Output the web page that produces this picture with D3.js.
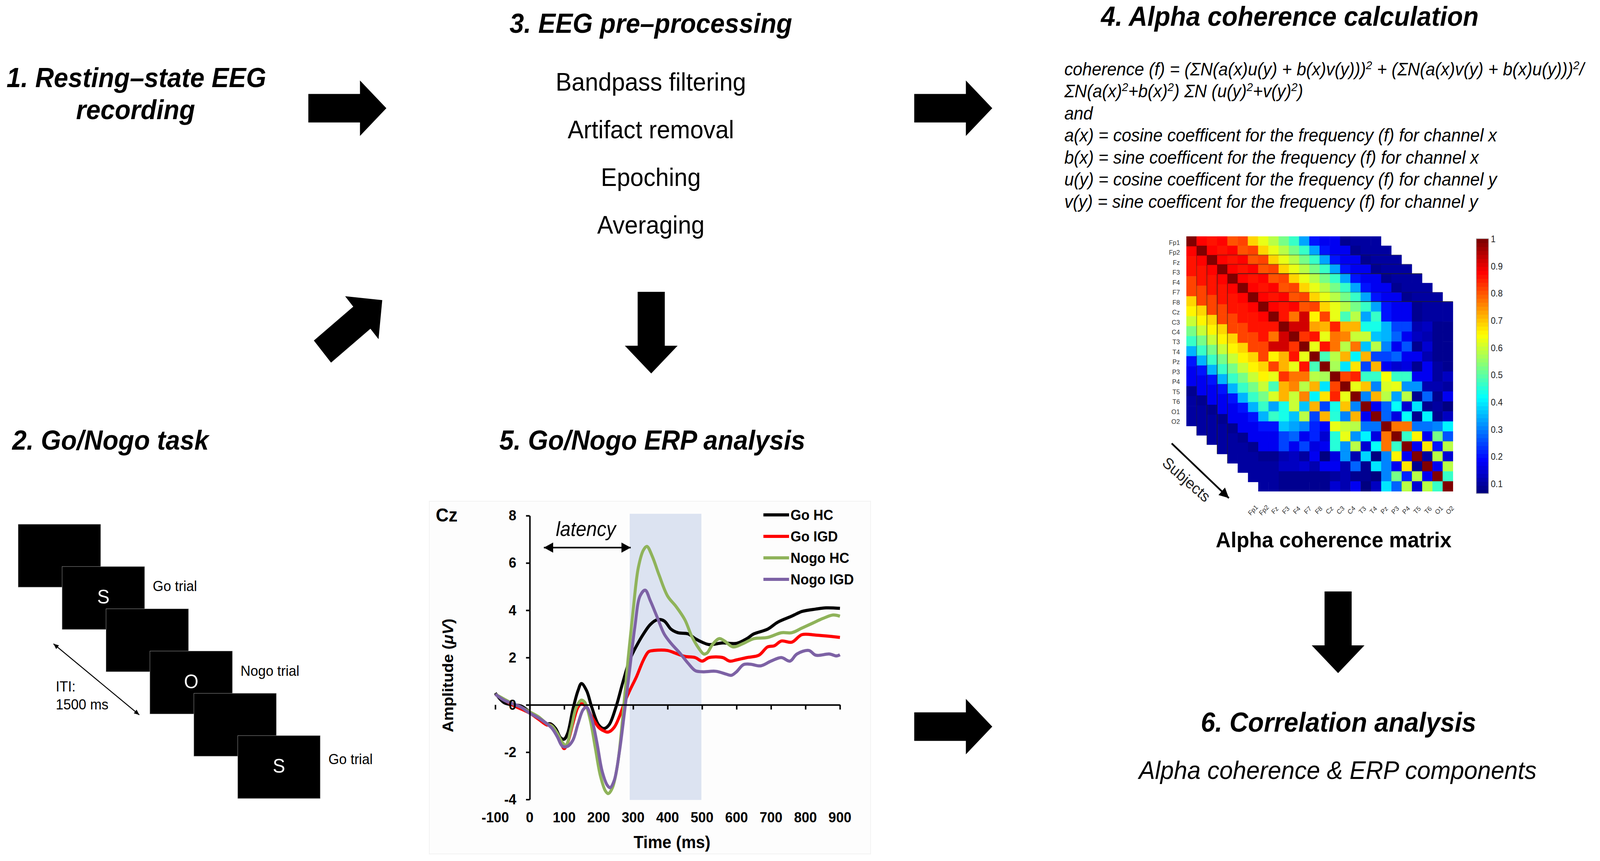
<!DOCTYPE html>
<html>
<head>
<meta charset="utf-8">
<script src="https://cdn.jsdelivr.net/npm/d3@7"></script>
<style>
  html, body { margin: 0; background: #fff; overflow: hidden; }
  text { font-family: "Liberation Sans", Arial, sans-serif; }
</style>
</head>
<body>
<script>
var WIDTH = 4307;
var HEIGHT = 2204;

// ERP traces at Cz as [ms, microvolts]
var goHc = [[-100,.5],[-75,.1],[-50,0],[-25,-.05],[0,-.3],[25,-.55],[50,-.8],[60,-.8],[75,-1],[90,-1.4],[100,-1.45],[110,-1.2],[125,-.2],[140,.6],[150,.9],[165,.6],[180,-.1],[200,-.85],[215,-1],[230,-.85],[250,-.1],[270,.95],[290,1.9],[310,2.5],[330,3],[350,3.4],[370,3.6],[390,3.55],[410,3.2],[430,3.05],[460,3],[480,2.8],[500,2.65],[520,2.55],[560,2.62],[600,2.6],[630,2.8],[650,3],[690,3.2],[720,3.5],[760,3.75],[790,3.95],[830,4.05],[860,4.1],[900,4.08]];
var goIgd = [[-100,.45],[-50,0],[0,-.35],[25,-.6],[50,-.85],[60,-.85],[75,-1.1],[90,-1.6],[100,-1.85],[110,-1.6],[125,-.8],[140,-.1],[150,.05],[165,-.1],[180,-.5],[200,-.95],[215,-1.1],[228,-1.15],[245,-.95],[260,-.5],[275,.1],[290,.6],[310,1.2],[330,1.9],[345,2.25],[360,2.3],[400,2.3],[420,2.2],[450,2.05],[480,2],[500,1.85],[520,2],[560,2],[580,1.85],[600,1.9],[630,2],[665,2.1],[690,2.45],[710,2.5],[730,2.7],[760,2.65],[790,2.97],[830,2.95],[870,2.9],[900,2.85]];
var nogoHc = [[-100,.45],[-75,.25],[-50,.05],[-25,-.1],[0,-.3],[25,-.5],[50,-.8],[65,-.9],[80,-1.2],[95,-1.6],[105,-1.7],[120,-1],[135,-.1],[150,.2],[160,.1],[175,-.6],[190,-1.8],[205,-3],[220,-3.65],[228,-3.75],[240,-3.5],[255,-2.5],[270,-.5],[285,1.9],[300,4],[315,5.8],[330,6.55],[340,6.7],[355,6.3],[375,5.5],[400,4.6],[425,4.15],[450,3.6],[470,2.9],[490,2.4],[505,2.15],[515,2.2],[530,2.55],[550,2.8],[565,2.7],[590,2.45],[620,2.6],[650,2.8],[690,2.85],[730,3.05],[760,3.05],[790,3.25],[820,3.45],[850,3.65],[880,3.8],[900,3.75]];
var nogoIgd = [[-100,.45],[-75,.2],[-50,.05],[-25,-.1],[0,-.35],[25,-.55],[50,-.8],[65,-1],[80,-1.35],[95,-1.75],[110,-1.75],[125,-1.5],[140,-.8],[155,-.2],[165,-.1],[180,-.6],[195,-1.6],[210,-2.8],[225,-3.4],[233,-3.5],[245,-3.2],[260,-2],[275,-.3],[290,1.5],[305,3.3],[320,4.6],[335,4.85],[350,4.4],[370,3.7],[390,3],[410,2.6],[435,2.2],[460,1.75],[480,1.45],[500,1.4],[540,1.42],[570,1.3],[585,1.25],[600,1.4],[620,1.7],[640,1.72],[670,1.65],[700,1.85],[730,2],[755,1.85],[775,2.15],[810,2.3],[830,2.1],[870,2.15],[890,2.07],[900,2.12]];

var seriesNames = ['Go HC', 'Go IGD', 'Nogo HC', 'Nogo IGD'];
var seriesColors = ['#000000', '#ff0000', '#8fb35a', '#7d62a5'];
var seriesValues = [goHc, goIgd, nogoHc, nogoIgd];
var msTicks = [-100, 0, 100, 200, 300, 400, 500, 600, 700, 800, 900];
var uvTicks = [-4, -2, 0, 2, 4, 6, 8];
var erpWindow = [290, 498];
var latencySpan = [14, 320];
var latencyLevel = 6.65;

// alpha coherence matrix, front subject
var channels = ['Fp1', 'Fp2', 'Fz', 'F3', 'F4', 'F7', 'F8', 'Cz', 'C3', 'C4', 'T3', 'T4', 'Pz', 'P3', 'P4', 'T5', 'T6', 'O1', 'O2'];
var coherenceRows = [
  [1,.87,.86,.87,.8,.82,.68,.63,.58,.52,.46,.34,.2,.17,.17,.08,.1,.1,.1],
  [.87,1,.86,.78,.92,.66,.82,.62,.48,.58,.34,.47,.2,.17,.17,.08,.1,.1,.1],
  [.86,.86,1,.92,.92,.73,.72,.84,.72,.72,.44,.44,.35,.25,.25,.12,.13,.09,.09],
  [.86,.78,.92,1,.83,.86,.62,.77,.76,.6,.6,.36,.35,.27,.18,.13,.12,.09,.09],
  [.82,.92,.92,.83,1,.62,.86,.77,.59,.77,.37,.58,.3,.17,.26,.09,.14,.09,.09],
  [.82,.66,.72,.86,.62,1,.48,.58,.71,.41,.72,.24,.24,.27,.17,.17,.11,.09,.09],
  [.68,.82,.71,.62,.86,.48,1,.57,.4,.67,.24,.72,.18,.14,.16,.08,.17,.1,.09],
  [.65,.62,.83,.77,.77,.58,.57,1,.82,.84,.46,.46,.64,.46,.46,.17,.17,.1,.13],
  [.6,.48,.72,.76,.59,.71,.4,.82,1,.62,.7,.31,.61,.63,.32,.32,.11,.11,.1],
  [.52,.61,.71,.6,.76,.41,.67,.84,.62,1,.3,.71,.58,.33,.59,.09,.28,.09,.17],
  [.46,.33,.44,.6,.36,.72,.24,.44,.7,.3,1,.17,.28,.42,.15,.4,.09,.1,.07],
  [.35,.47,.44,.37,.58,.24,.72,.45,.3,.71,.17,1,.28,.16,.42,.08,.41,.08,.13],
  [.2,.21,.36,.34,.3,.22,.19,.63,.6,.58,.29,.29,1,.77,.77,.29,.29,.31,.41],
  [.18,.18,.24,.27,.18,.22,.15,.45,.63,.32,.41,.16,.77,1,.47,.65,.17,.52,.26],
  [.17,.17,.24,.18,.25,.16,.17,.45,.32,.59,.14,.42,.77,.47,1,.17,.67,.2,.58],
  [.09,.08,.11,.13,.1,.17,.07,.16,.32,.11,.38,.07,.3,.65,.17,1,.1,.58,.14],
  [.1,.1,.13,.13,.14,.11,.17,.17,.11,.28,.09,.4,.3,.17,.67,.09,1,.17,.58],
  [.1,.1,.09,.09,.09,.09,.09,.1,.11,.08,.09,.07,.31,.52,.22,.58,.17,1,.47],
  [.1,.1,.09,.09,.09,.09,.09,.14,.11,.18,.07,.13,.4,.27,.58,.15,.58,.46,1]
];
var colorbarTicks = [.1, .2, .3, .4, .5, .6, .7, .8, .9, 1];
var layerCount = 8;
var layerTopEdge = [0, 0, .45, .45, .85, 0, .3, .8];
var layerLeftEdge = [0, .45, .6, .75, .6, 0, 0, 0];

var formulaLines = [
  'coherence (f) = (ΣN(a(x)u(y) + b(x)v(y)))^2^ + (ΣN(a(x)v(y) + b(x)u(y)))^2^/',
  'ΣN(a(x)^2^+b(x)^2^) ΣN (u(y)^2^+v(y)^2^)',
  'and',
  'a(x) = cosine coefficent for the frequency (f) for channel x',
  'b(x) = sine coefficent for the frequency (f) for channel x',
  'u(y) = cosine coefficent for the frequency (f) for channel y',
  'v(y) = sine coefficent for the frequency (f) for channel y'
];
var preprocessingSteps = ['Bandpass filtering', 'Artifact removal', 'Epoching', 'Averaging'];
var stimulusLetters = ['', 'S', '', 'O', '', 'S'];
var trialLabels = ['Go trial', 'Nogo trial', 'Go trial'];

// the window can be narrower than the reference, so the whole drawing is fitted to it
var svg = d3.select('body').append('svg')
  .attr('viewBox', '0 0 ' + WIDTH + ' ' + HEIGHT)
  .attr('preserveAspectRatio', 'none')
  .style('width', '100vw')
  .style('height', '100vh')
  .style('display', 'block');

svg.append('rect').attr('width', WIDTH).attr('height', HEIGHT).attr('fill', '#fff');

function label(parent, str, x, y, size, opts) {
  opts = opts || {};
  return parent.append('text')
    .attr('x', x)
    .attr('y', y)
    .attr('font-size', size)
    .attr('font-weight', opts.bold ? 'bold' : 'normal')
    .attr('font-style', opts.italic ? 'italic' : 'normal')
    .attr('text-anchor', opts.anchor || 'start')
    .attr('fill', opts.fill || '#000')
    .attr('transform', opts.rotate ? 'rotate(' + opts.rotate + ' ' + x + ' ' + y + ')' : null)
    .text(str);
}

// block arrow pointing right from (0,0), placed with a transform
function blockArrow(x, y, angle, length) {
  var head = 71;
  var half = 71;
  var shaft = 36.5;
  var pts = [[0, -shaft], [length - head, -shaft], [length - head, -half], [length, 0],
    [length - head, half], [length - head, shaft], [0, shaft]];
  svg.append('path')
    .attr('d', d3.line()(pts) + 'Z')
    .attr('transform', 'translate(' + x + ',' + y + ') rotate(' + angle + ')')
    .attr('fill', '#000');
}

function lineArrow(parent, x1, y1, x2, y2, width, headLength, headHalf, both) {
  var angle = Math.atan2(y2 - y1, x2 - x1) * 180 / Math.PI;
  parent.append('line')
    .attr('x1', x1).attr('y1', y1).attr('x2', x2).attr('y2', y2)
    .attr('stroke', '#000').attr('stroke-width', width);
  var tip = [[0, 0], [-headLength, -headHalf], [-headLength, headHalf]];
  parent.append('path')
    .attr('d', d3.line()(tip) + 'Z')
    .attr('transform', 'translate(' + x2 + ',' + y2 + ') rotate(' + angle + ')');
  if (both) {
    parent.append('path')
      .attr('d', d3.line()(tip) + 'Z')
      .attr('transform', 'translate(' + x1 + ',' + y1 + ') rotate(' + (angle + 180) + ')');
  }
}

function drawHeadings() {
  var big = { bold: true, italic: true, anchor: 'middle' };
  label(svg, '1. Resting–state EEG', 367, 223, 69.5, big);
  label(svg, 'recording', 365, 305, 69.5, big);
  label(svg, '2. Go/Nogo task', 33, 1151, 69.5, { bold: true, italic: true });
  label(svg, '3. EEG pre–processing', 1752, 84, 69.5, big);
  label(svg, '4. Alpha coherence calculation', 3472, 66, 69.5, big);
  label(svg, '5. Go/Nogo ERP analysis', 1756, 1151, 69.5, big);
  label(svg, '6. Correlation analysis', 3603, 1873, 69.5, big);
  label(svg, 'Alpha coherence & ERP components', 3601, 1994, 65, { italic: true, anchor: 'middle' });
  label(svg, 'Alpha coherence matrix', 3590, 1401, 56, { bold: true, anchor: 'middle' });

  var stepY = d3.scaleLinear().domain([0, 3]).range([232, 598]);
  preprocessingSteps.forEach(function (step, i) {
    label(svg, step, 1752, stepY(i), 64.5, { anchor: 'middle' });
  });
}

function drawFlowArrows() {
  blockArrow(830, 277, 0, 210);
  blockArrow(2461, 277, 0, 210);
  blockArrow(2461, 1860, 0, 210);
  blockArrow(868, 900, -39.3, 208);
  blockArrow(1753, 747, 90, 209);
  blockArrow(3602, 1514, 90, 209);
}

function drawFormula() {
  var lineY = d3.scaleLinear().domain([0, 6]).range([193, 532]);
  formulaLines.forEach(function (line, i) {
    var text = label(svg, '', 2865, lineY(i), 46, { italic: true });
    line.split('^').forEach(function (part, k) {
      var tspan = text.append('tspan').text(part);
      if (k % 2 === 1) {
        tspan.attr('baseline-shift', 'super').attr('font-size', 30);
      }
    });
  });
}

function drawTask() {
  var g = svg.append('g');
  var slideX = d3.scaleLinear().domain([0, 5]).range([49, 640]);
  var slideY = d3.scaleLinear().domain([0, 5]).range([1342, 1883]);
  var slideW = 222;
  var slideH = 161;

  g.selectAll('rect')
    .data(stimulusLetters)
    .enter()
    .append('rect')
    .attr('x', function (d, i) { return slideX(i); })
    .attr('y', function (d, i) { return slideY(i); })
    .attr('width', slideW)
    .attr('height', slideH)
    .attr('fill', '#000')
    .attr('stroke', '#999')
    .attr('stroke-width', 1);

  stimulusLetters.forEach(function (letter, i) {
    if (letter) {
      label(g, letter, slideX(i) + slideW / 2, slideY(i) + 95, 50, { fill: '#fff', anchor: 'middle' });
    }
  });

  trialLabels.forEach(function (str, i) {
    var slide = i * 2 + 1;
    label(g, str, slideX(slide) + slideW + 22, slideY(slide) + (i === 2 ? 73 : 63), 37);
  });

  label(g, 'ITI:', 150, 1770, 37);
  label(g, '1500 ms', 150, 1816, 37);
  lineArrow(g, 144, 1648, 375, 1830, 2.5, 14, 6, true);
}

function drawErp() {
  var g = svg.append('g');
  var x = d3.scaleLinear().domain([0, 900]).range([1426, 2261]);
  var y = d3.scaleLinear().domain([-4, 8]).range([2046.5, 1320]);

  g.append('rect')
    .attr('x', 1155.5).attr('y', 1283)
    .attr('width', 1188).attr('height', 903)
    .attr('fill', '#fdfdfd')
    .attr('stroke', '#f2f2f2')
    .attr('stroke-width', 2);

  g.append('rect')
    .attr('x', x(erpWindow[0]))
    .attr('y', y(8.08))
    .attr('width', x(erpWindow[1]) - x(erpWindow[0]))
    .attr('height', y(-4.02) - y(8.08))
    .attr('fill', '#dce3f1');

  var line = d3.line()
    .x(function (d) { return x(d[0]); })
    .y(function (d) { return y(d[1]); })
    .curve(d3.curveCatmullRom.alpha(0.5));

  g.selectAll('.trace')
    .data(seriesValues)
    .enter()
    .append('path')
    .attr('class', 'trace')
    .attr('d', line)
    .attr('fill', 'none')
    .attr('stroke', function (d, i) { return seriesColors[i]; })
    .attr('stroke-width', 8)
    .attr('stroke-linejoin', 'round');

  // y axis at time zero, x axis at amplitude zero
  var yAxis = g.append('g')
    .attr('transform', 'translate(' + x(0) + ',0)')
    .call(d3.axisLeft(y).tickValues(uvTicks).tickSize(10).tickPadding(26).tickSizeOuter(0).tickFormat(String));
  yAxis.selectAll('path, line').attr('stroke', '#000').attr('stroke-width', 4);
  yAxis.selectAll('text')
    .attr('font-size', 37)
    .attr('font-weight', 'bold')
    .attr('font-family', '"Liberation Sans", Arial, sans-serif')
    .attr('fill', '#000');

  var xAxis = g.append('g')
    .attr('transform', 'translate(0,' + y(0) + ')')
    .call(d3.axisBottom(x).tickValues(msTicks).tickSize(12).tickSizeOuter(0).tickFormat(''));
  xAxis.selectAll('path, line').attr('stroke', '#000').attr('stroke-width', 4);

  msTicks.forEach(function (ms) {
    label(g, String(ms), x(ms), 2105, 37, { bold: true, anchor: 'middle' });
  });

  label(g, 'Cz', 1173, 1335, 48, { bold: true });
  label(g, 'Time (ms)', 1809, 2171, 44, { bold: true, anchor: 'middle' });

  var yTitle = label(g, 'Amplitude (', 1220, 1729, 41, { bold: true, anchor: 'middle', rotate: -90 });
  yTitle.append('tspan').attr('font-style', 'italic').text('μV');
  yTitle.append('tspan').text(')');

  label(g, 'latency', 1577, 1372, 51, { italic: true, anchor: 'middle' });
  lineArrow(g, x(latencySpan[0]) + 25, y(latencyLevel), x(latencySpan[1]) - 25, y(latencyLevel), 4, 25, 13, true);

  var legendY = d3.scaleLinear().domain([0, 3]).range([1318, 1483]);
  seriesNames.forEach(function (name, i) {
    g.append('line')
      .attr('x1', 2055).attr('x2', 2124)
      .attr('y1', legendY(i)).attr('y2', legendY(i))
      .attr('stroke', seriesColors[i])
      .attr('stroke-width', 8);
    label(g, name, 2128, legendY(i) + 13, 37, { bold: true });
  });
}

function drawMatrix() {
  var g = svg.append('g');
  var size = channels.length;
  var cellW = 524 / size;
  var cellH = 485.5 / size;
  var layerX = d3.scaleLinear().domain([0, layerCount - 1]).range([3193.5, 3387]);
  var layerY = d3.scaleLinear().domain([0, layerCount - 1]).range([605, 772]);
  var low = 0.064;

  // jet, 64 steps, as in the colour bar of the picture
  var jet = d3.scaleLinear()
    .domain([0, .125, .375, .625, .875, 1])
    .range(['#000080', '#0000ff', '#00ffff', '#ffff00', '#ff0000', '#800000'])
    .clamp(true);
  function color(v) {
    var t = (v - low) / (1 - low);
    return jet(Math.min(Math.floor(t * 64), 63) / 63);
  }

  d3.range(layerCount).forEach(function (layer) {
    var layerG = g.append('g')
      .attr('transform', 'translate(' + layerX(layer) + ',' + layerY(layer) + ')');
    coherenceRows.forEach(function (row, r) {
      layerG.selectAll('.row' + r)
        .data(row)
        .enter()
        .append('rect')
        .attr('class', 'row' + r)
        .attr('x', function (d, c) { return c * cellW; })
        .attr('y', r * cellH)
        .attr('width', cellW + .5)
        .attr('height', cellH + .5)
        .attr('fill', color);
    });
    if (layerTopEdge[layer]) {
      layerG.append('line')
        .attr('x1', cellW).attr('x2', size * cellW)
        .attr('y1', 0).attr('y2', 0)
        .attr('stroke', '#222')
        .attr('stroke-opacity', layerTopEdge[layer])
        .attr('stroke-width', 2);
    }
    if (layerLeftEdge[layer]) {
      layerG.append('line')
        .attr('x1', 0).attr('x2', 0)
        .attr('y1', cellH).attr('y2', size * cellH)
        .attr('stroke', '#222')
        .attr('stroke-opacity', layerLeftEdge[layer])
        .attr('stroke-width', 2);
    }
  });

  var rowY = d3.scalePoint().domain(channels).range([621, 1079]);
  channels.forEach(function (name) {
    label(g, name, 3176, rowY(name) + 6, 17, { anchor: 'end', fill: '#333' });
  });
  var colX = d3.scalePoint().domain(channels).range([3377, 3907]);
  channels.forEach(function (name) {
    label(g, name, colX(name), 1310, 17, { anchor: 'middle', fill: '#333', rotate: -45 });
  });

  // colour bar
  var barY = d3.scaleLinear().domain([.1, 1]).range([1238, 611]);
  var steps = d3.range(64);
  g.selectAll('.bar')
    .data(steps)
    .enter()
    .append('rect')
    .attr('class', 'bar')
    .attr('x', 3974)
    .attr('width', 33)
    .attr('y', function (d) { return barY(low + (1 - low) * (d + 1) / 64); })
    .attr('height', barY(0) - barY(.016))
    .attr('fill', function (d) { return jet(d / 63); });
  g.append('rect')
    .attr('x', 3974).attr('y', barY(1))
    .attr('width', 33).attr('height', barY(low) - barY(1))
    .attr('fill', 'none').attr('stroke', '#aaa').attr('stroke-width', 1.5);
  colorbarTicks.forEach(function (v) {
    label(g, String(v), 4013, barY(v) + 9, 23, { fill: '#222' });
  });

  lineArrow(g, 3154, 1135, 3308, 1275, 4.5, 26, 13, false);
  label(g, 'Subjects', 3185, 1238, 40, { anchor: 'middle', fill: '#222', rotate: 40 });
}

drawHeadings();
drawFlowArrows();
drawFormula();
drawTask();
drawErp();
drawMatrix();
</script>
</body>
</html>
